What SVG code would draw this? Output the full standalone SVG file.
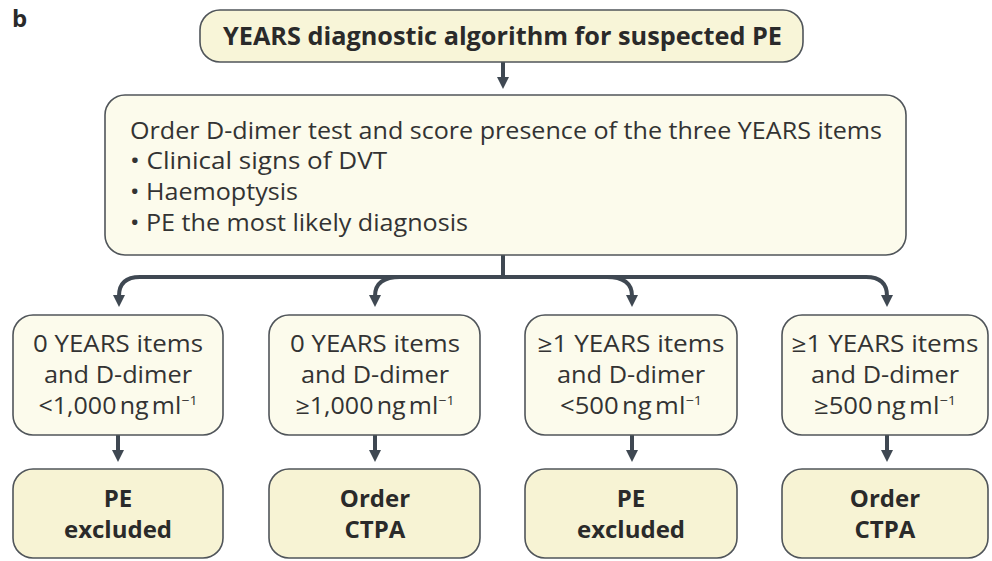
<svg xmlns="http://www.w3.org/2000/svg" width="992" height="561" viewBox="0 0 992 561">
  <style>
    .box { stroke: #50555a; stroke-width: 1.6; }
    .hd { fill: #f8f5d8; }
    .lt { fill: #fcfbec; }
    .res { fill: #f7f3d4; }
    .reg { font-family: "Open Sans", "Noto Sans", sans-serif; font-size: 23px; fill: #333333; }
    .bold { font-family: "Open Sans", "Noto Sans", sans-serif; font-weight: bold; fill: #2a2a2a; }
    .out { font-size: 24px; }
    .mid { text-anchor: middle; }
    .conn { fill: none; stroke: #3f4852; stroke-width: 4; }
  </style>
  <defs>
    <marker id="arr" markerUnits="userSpaceOnUse" markerWidth="14" markerHeight="14" refX="1" refY="6" orient="auto">
      <path d="M0,0 L12,6 L0,12 z" fill="#3f4852"/>
    </marker>
  </defs>

  <rect width="992" height="561" fill="#ffffff"/>

  <!-- panel letter -->
  <text x="12" y="27" class="bold" font-size="24">b</text>

  <!-- connectors -->
  <g id="connectors">
    <path class="conn" d="M503,62 V78" marker-end="url(#arr)"/>
    <path class="conn" d="M503,255 V277"/>
    <path class="conn" d="M503,277 H140 Q119,277 119,296" marker-end="url(#arr)"/>
    <path class="conn" d="M400,277 Q375,277 375,296" marker-end="url(#arr)"/>
    <path class="conn" d="M503,277 H866 Q887,277 887,296" marker-end="url(#arr)"/>
    <path class="conn" d="M607,277 Q632,277 632,296" marker-end="url(#arr)"/>
    <path class="conn" d="M118,435 V451" marker-end="url(#arr)"/>
    <path class="conn" d="M375,435 V451" marker-end="url(#arr)"/>
    <path class="conn" d="M632,435 V451" marker-end="url(#arr)"/>
    <path class="conn" d="M887,435 V451" marker-end="url(#arr)"/>
  </g>

  <!-- title -->
  <g id="title">
    <rect class="box hd" x="200" y="10" width="603" height="52" rx="20"/>
    <text x="502.5" y="45" class="bold mid" font-size="25" textLength="559" lengthAdjust="spacingAndGlyphs">YEARS diagnostic algorithm for suspected PE</text>
  </g>

  <!-- scoring step -->
  <g id="score">
    <rect class="box lt" x="105" y="95" width="801" height="160" rx="20"/>
    <text x="130" y="139" class="reg" textLength="752" lengthAdjust="spacingAndGlyphs">Order D-dimer test and score presence of the three YEARS items</text>
    <text x="130" y="169" class="reg" textLength="257" lengthAdjust="spacingAndGlyphs">• Clinical signs of DVT</text>
    <text x="130" y="200" class="reg" textLength="168" lengthAdjust="spacingAndGlyphs">• Haemoptysis</text>
    <text x="130" y="231" class="reg" textLength="338" lengthAdjust="spacingAndGlyphs">• PE the most likely diagnosis</text>
  </g>

  <!-- criteria -->
  <g id="c1">
    <rect class="box lt" x="13" y="315" width="210" height="120" rx="20"/>
    <text x="118" y="352" class="reg mid" textLength="170" lengthAdjust="spacingAndGlyphs">0 YEARS items</text>
    <text x="118" y="383" class="reg mid" textLength="148" lengthAdjust="spacingAndGlyphs">and D-dimer</text>
    <text x="118" y="414" class="reg mid" textLength="159" lengthAdjust="spacingAndGlyphs">&lt;1,000<tspan dx="3">ng</tspan><tspan dx="3">ml</tspan><tspan dy="-9" font-size="13">−1</tspan></text>
  </g>
  <g id="c2">
    <rect class="box lt" x="269" y="315" width="211" height="120" rx="20"/>
    <text x="375" y="352" class="reg mid" textLength="170" lengthAdjust="spacingAndGlyphs">0 YEARS items</text>
    <text x="375" y="383" class="reg mid" textLength="148" lengthAdjust="spacingAndGlyphs">and D-dimer</text>
    <text x="375" y="414" class="reg mid" textLength="159" lengthAdjust="spacingAndGlyphs">≥1,000<tspan dx="3">ng</tspan><tspan dx="3">ml</tspan><tspan dy="-9" font-size="13">−1</tspan></text>
  </g>
  <g id="c3">
    <rect class="box lt" x="525" y="315" width="212" height="120" rx="20"/>
    <text x="631" y="352" class="reg mid" textLength="187" lengthAdjust="spacingAndGlyphs">≥1 YEARS items</text>
    <text x="631" y="383" class="reg mid" textLength="148" lengthAdjust="spacingAndGlyphs">and D-dimer</text>
    <text x="631" y="414" class="reg mid" textLength="142" lengthAdjust="spacingAndGlyphs">&lt;500<tspan dx="3">ng</tspan><tspan dx="3">ml</tspan><tspan dy="-9" font-size="13">−1</tspan></text>
  </g>
  <g id="c4">
    <rect class="box lt" x="782" y="315" width="206" height="120" rx="20"/>
    <text x="885" y="352" class="reg mid" textLength="187" lengthAdjust="spacingAndGlyphs">≥1 YEARS items</text>
    <text x="885" y="383" class="reg mid" textLength="148" lengthAdjust="spacingAndGlyphs">and D-dimer</text>
    <text x="885" y="414" class="reg mid" textLength="142" lengthAdjust="spacingAndGlyphs">≥500<tspan dx="3">ng</tspan><tspan dx="3">ml</tspan><tspan dy="-9" font-size="13">−1</tspan></text>
  </g>

  <!-- outcomes -->
  <g id="o1">
    <rect class="box res" x="13" y="469" width="210" height="89" rx="20"/>
    <text x="118" y="507" class="bold out mid">PE</text>
    <text x="118" y="538" class="bold out mid">excluded</text>
  </g>
  <g id="o2">
    <rect class="box res" x="269" y="469" width="211" height="89" rx="20"/>
    <text x="375" y="507" class="bold out mid">Order</text>
    <text x="375" y="538" class="bold out mid">CTPA</text>
  </g>
  <g id="o3">
    <rect class="box res" x="525" y="469" width="212" height="89" rx="20"/>
    <text x="631" y="507" class="bold out mid">PE</text>
    <text x="631" y="538" class="bold out mid">excluded</text>
  </g>
  <g id="o4">
    <rect class="box res" x="782" y="469" width="206" height="89" rx="20"/>
    <text x="885" y="507" class="bold out mid">Order</text>
    <text x="885" y="538" class="bold out mid">CTPA</text>
  </g>
</svg>
